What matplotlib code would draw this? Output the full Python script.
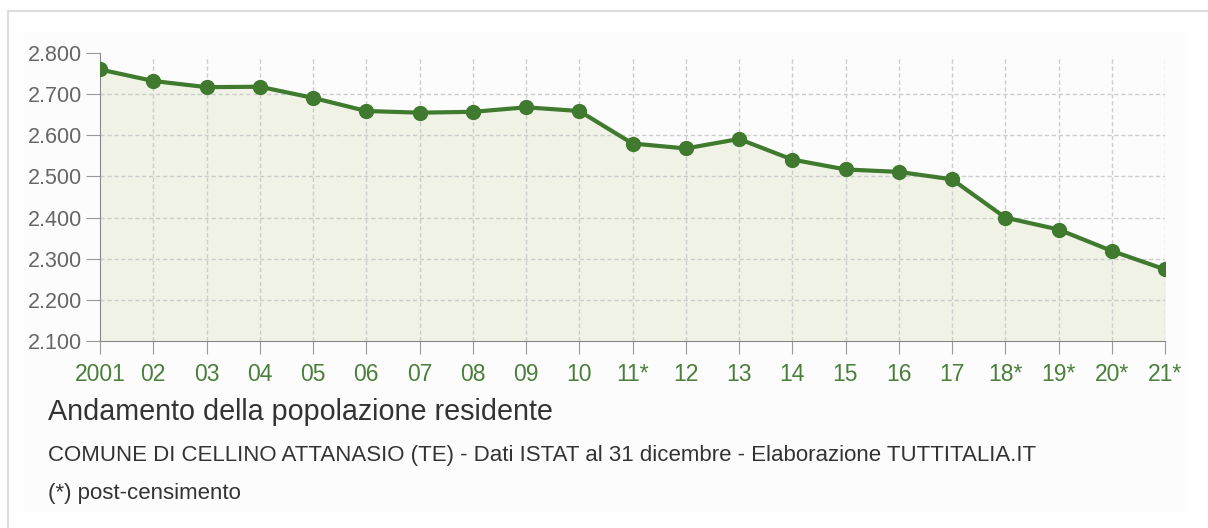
import numpy as np
import matplotlib.pyplot as plt
from matplotlib.patches import Rectangle

# population data
years = ['2001', '02', '03', '04', '05', '06', '07', '08', '09', '10', '11*',
         '12', '13', '14', '15', '16', '17', '18*', '19*', '20*', '21*']
population = [2760, 2732, 2717, 2718, 2691, 2659, 2655, 2657, 2668, 2659, 2580,
              2568, 2591, 2541, 2517, 2511, 2493, 2400, 2371, 2319, 2274]
yticks = [2100, 2200, 2300, 2400, 2500, 2600, 2700, 2800]

green = '#3f7a2f'
x = np.arange(len(years))

plt.rcParams['font.family'] = ['Liberation Sans', 'DejaVu Sans']

W, H = 1208, 528
fig = plt.figure(figsize=(W / 100, H / 100), dpi=100)
# faint inner panel and outer frame
fig.patches.append(Rectangle((23 / W, 1 - 512 / H), (1186 - 23) / W, (512 - 32) / H,
                             transform=fig.transFigure, facecolor='#fcfcfc',
                             edgecolor='none', zorder=-2))
fig.patches.append(Rectangle((8 / W, -0.1), 1.2, (H - 11) / H + 0.1,
                             transform=fig.transFigure, fill=False,
                             edgecolor='#dddddd', linewidth=1.5, zorder=-2))

ax = fig.add_axes([100 / W, 1 - 341 / H, 1065 / W, 288 / H])
ax.patch.set_alpha(0)
ax.fill_between(x, population, 2100, color='#f0f2e5', zorder=1)
ax.plot(x, population, color=green, linewidth=3, marker='o', markersize=10,
        zorder=3)

ax.set_xlim(0, len(years) - 1)
ax.set_ylim(2100, 2800)
ax.set_xticks(x)
ax.set_xticklabels(years)
ax.set_yticks(yticks)
ax.set_yticklabels([f'{v:,}'.replace(',', '.') for v in yticks])

for v in yticks[1:-1]:
    ax.axhline(v, color='#cccccc', linestyle=(0, (3, 2)), linewidth=1, zorder=2)
for xi in x[1:]:
    ax.axvline(xi, ymax=0.99, color='#cccccc', linestyle=(0, (3, 2)),
               linewidth=1, zorder=2)

for s in ['top', 'right']:
    ax.spines[s].set_visible(False)
ax.spines['left'].set_color('#888888')
ax.spines['bottom'].set_color('#888888')
ax.tick_params(axis='both', direction='out', length=9.5, color='#999999')
ax.tick_params(axis='x', labelsize=16.5, labelcolor='#4a7f3a', pad=6)
ax.tick_params(axis='y', labelsize=15.5, labelcolor='#666666', pad=3, length=10)

fig.text(48 / W, 1 - 412 / H, 'Andamento della popolazione residente',
         fontsize=20.7, color='#333333', va='center')
fig.text(48 / W, 1 - 455 / H,
         'COMUNE DI CELLINO ATTANASIO (TE) - Dati ISTAT al 31 dicembre - Elaborazione TUTTITALIA.IT',
         fontsize=16, color='#333333', va='center')
fig.text(48 / W, 1 - 493 / H, '(*) post-censimento',
         fontsize=16, color='#333333', va='center')

fig.savefig('out.png', dpi=100)
